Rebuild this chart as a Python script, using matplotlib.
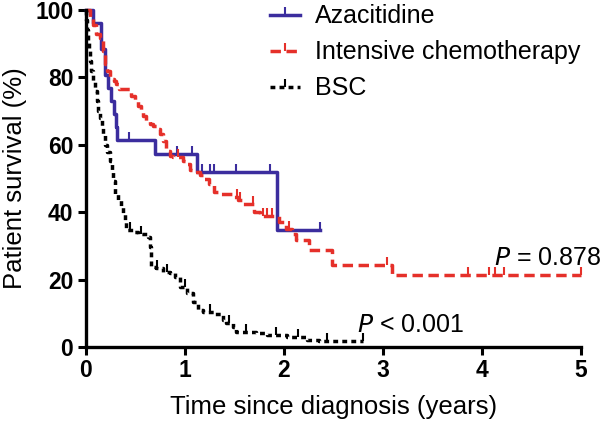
import matplotlib
matplotlib.use("Agg")
import matplotlib.pyplot as plt
from matplotlib.lines import Line2D
import numpy as np

plt.rcParams['font.family'] = ['Liberation Sans', 'DejaVu Sans']
plt.rcParams['lines.scale_dashes'] = False

# ---- data (Kaplan-Meier step curves) ----
aza_t = [0, 0.07, 0.15, 0.19, 0.22, 0.25, 0.28, 0.30, 0.32, 0.70, 1.12, 1.93, 2.37]
aza_s = [100, 96.2, 88.5, 80.8, 76.9, 73.1, 69.2, 65.4, 61.5, 57.3, 52.0, 34.6, 34.6]
aza_cens = [0.44, 0.92, 1.07, 1.17, 1.25, 1.29, 1.52, 1.86, 2.37]

ic_t = [0, 0.04, 0.07, 0.10, 0.14, 0.17, 0.19, 0.21, 0.24, 0.28, 0.31, 0.34, 0.46, 0.50,
        0.53, 0.56, 0.58, 0.61, 0.65, 0.68, 0.72, 0.75, 0.78, 0.815, 0.85, 0.88, 0.98,
        1.02, 1.05, 1.10, 1.15, 1.19, 1.24, 1.29, 1.35, 1.49, 1.54, 1.59, 1.70, 1.76,
        1.95, 2.02, 2.08, 2.12, 2.25, 2.49, 3.09, 5.0]
ic_s = [100, 98, 95.7, 92.8, 91.8, 87.9, 83.9, 82, 79.5, 79, 78, 76.5, 74.6, 73,
        71.5, 70, 68.6, 67.2, 66.2, 65.5, 64.7, 63.2, 61.2, 58.3, 56.8, 56.3, 55.3,
        54.3, 52.5, 51.9, 50.9, 49.9, 48.4, 45.9, 45.4, 44.5, 43.5, 42.5, 40, 39,
        37, 35, 33.6, 31.7, 28.7, 24.3, 21.3, 21.3]
ic_cens = [0.93, 1.53, 1.56, 1.69, 1.79, 1.83, 1.88, 2.05, 3.04, 3.86, 4.07, 4.13, 4.22, 5.0]

bsc_t = [0, 0.005, 0.01, 0.02, 0.03, 0.04, 0.055, 0.07, 0.09, 0.11, 0.125, 0.14, 0.16,
         0.175, 0.19, 0.21, 0.24, 0.26, 0.276, 0.29, 0.33, 0.36, 0.38, 0.395, 0.41,
         0.48, 0.53, 0.63, 0.65, 0.66, 0.71, 0.78, 0.85, 0.90, 0.95, 1.02, 1.08, 1.13,
         1.18, 1.29, 1.39, 1.42, 1.49, 1.52, 1.72, 1.83, 2.03, 2.23, 2.36, 2.80]
bsc_s = [100, 97, 94, 91, 88, 85, 82, 79, 76, 73, 70, 68, 65,
         63, 60, 58, 55.3, 52.5, 49.4, 45.5, 43.5, 41.5, 39.5, 37.5, 34.6,
         34.1, 33.6, 32.6, 29.7, 23.8, 23.3, 22.3, 21.8, 20.8, 17.8, 15.9, 13.4, 10.9,
         10.4, 9.9, 8.0, 7.0, 6.0, 4.5, 4.0, 3.5, 3.0, 2.1, 1.6, 1.6]
bsc_cens = [0.45, 0.56, 0.72, 0.82, 1.0, 1.25, 1.45, 1.62, 1.92, 2.14, 2.44, 2.80]

labels = ["Azacitidine", "Intensive chemotherapy", "BSC"]
colors = ["#3B2D9E", "#E5302A", "#000000"]
p_texts = ["0.878", "0.001"]
x_ticks = [0, 1, 2, 3, 4, 5]
y_ticks = [0, 20, 40, 60, 80, 100]


def surv_at(times, surv, t):
    idx = np.searchsorted(times, t, side='right') - 1
    return surv[max(idx, 0)]


fig = plt.figure(figsize=(6.0, 4.22), dpi=100)
ax = fig.add_axes([0.143, 0.178, 0.825, 0.798])

styles = [dict(linestyle='-'), dict(dashes=(7.5, 4)), dict(dashes=(3.5, 3))]
series = [(aza_t, aza_s, aza_cens), (ic_t, ic_s, ic_cens), (bsc_t, bsc_s, bsc_cens)]
handles = []
for (t, s, c), col, st, lab in zip(series, colors, styles, labels):
    ax.step(t, s, where='post', color=col, lw=2.5, clip_on=False, **st)
    cy = [surv_at(np.array(t), s, ci) for ci in c]
    ax.plot(c, cy, linestyle='none', marker=2, markersize=5.5, mew=1.5,
            color=col, clip_on=False)
    handles.append(Line2D([0], [0], color=col, lw=2.5, marker=2, markersize=5.5,
                          mew=1.5, **st))

ax.set_xlim(0, 5)
ax.set_ylim(0, 100)
ax.set_xticks(x_ticks)
ax.set_yticks(y_ticks)
for sp in ['top', 'right']:
    ax.spines[sp].set_visible(False)
for sp in ['left', 'bottom']:
    ax.spines[sp].set_linewidth(2.4)
ax.tick_params(width=2.2, length=6, direction='out', labelsize=16.5, pad=3)
for lab in ax.get_xticklabels() + ax.get_yticklabels():
    lab.set_fontweight('bold')

ax.set_xlabel("Time since diagnosis (years)", fontsize=18.5, labelpad=9)
ax.set_ylabel("Patient survival (%)", fontsize=18.5, labelpad=6)

leg = ax.legend(handles, labels, loc='upper left', bbox_to_anchor=(0.352, 1.047),
                frameon=False, fontsize=18, handlelength=1.2, handletextpad=0.6,
                labelspacing=0.48, numpoints=1, borderaxespad=0)

ax.text(4.12, 26.5, r"$\it{P}$ = " + p_texts[0], fontsize=18, va='center', ha='left',
        clip_on=False)
ax.text(2.74, 6.5, r"$\it{P}$ < " + p_texts[1], fontsize=18, va='center', ha='left',
        clip_on=False)

fig.savefig("out.png", dpi=100)
